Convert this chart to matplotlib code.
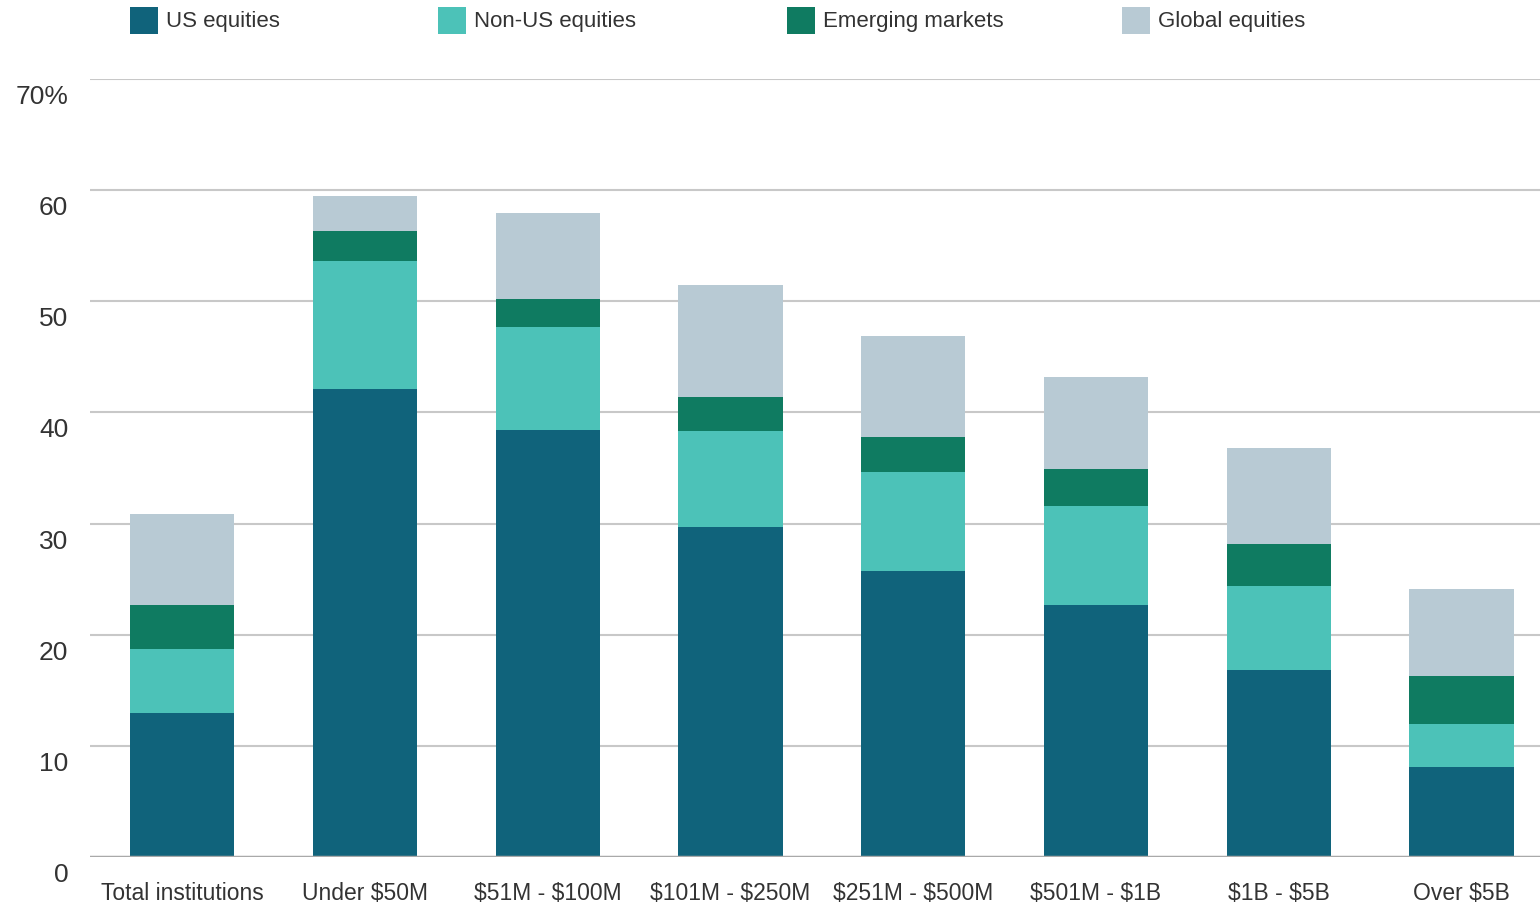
import matplotlib.pyplot as plt
from matplotlib.patches import Rectangle
from matplotlib.transforms import ScaledTranslation
import numpy as np

# Data (% of institutions)
categories = [
    "Total institutions",
    "Under $50M",
    "$51M - $100M",
    "$101M - $250M",
    "$251M - $500M",
    "$501M - $1B",
    "$1B - $5B",
    "Over $5B",
]
us_equities = [13.0, 42.1, 38.4, 29.7, 25.7, 22.7, 16.8, 8.1]
non_us_equities = [5.7, 11.5, 9.3, 8.6, 8.9, 8.9, 7.6, 3.9]
emerging_markets = [4.0, 2.7, 2.5, 3.1, 3.2, 3.3, 3.8, 4.3]
global_equities = [8.2, 3.2, 7.7, 10.1, 9.1, 8.3, 8.6, 7.8]

series_names = ["US equities", "Non-US equities", "Emerging markets", "Global equities"]
series_colors = ["#10637b", "#4cc2b8", "#0f7b61", "#b8cad4"]
y_ticks = [0, 10, 20, 30, 40, 50, 60, 70]
y_tick_labels = ["0", "10", "20", "30", "40", "50", "60", "70%"]

plt.rcParams["font.family"] = ["Liberation Sans Narrow", "Liberation Sans", "DejaVu Sans"]
plt.rcParams["text.parse_math"] = False  # dollar signs are literal

fig = plt.figure(figsize=(15.4, 9.03), dpi=100)
ax = fig.add_axes([90 / 1540, 45 / 903, 1 - 90 / 1540, 778 / 903])

x = np.arange(len(categories))
bottom = np.zeros(len(categories))
for values, color in zip(
    [us_equities, non_us_equities, emerging_markets, global_equities], series_colors
):
    ax.bar(x, values, width=0.57, bottom=bottom, color=color, linewidth=0, zorder=3)
    bottom += np.array(values)

ax.set_xlim(-0.505, 7.43)
ax.set_ylim(0, 70)

# Gridlines and baseline
for t in y_ticks[1:]:
    ax.axhline(t, color="#c8c8c8", linewidth=1.5, zorder=1)
ax.axhline(0, color="#a9a9a9", linewidth=2.5, zorder=4)

for side in ["top", "right", "left", "bottom"]:
    ax.spines[side].set_visible(False)
ax.set_xticks([])
ax.set_yticks([])

# Y labels sit a bit below their gridlines
shift_down = ScaledTranslation(0, -0.17, fig.dpi_scale_trans)
ytrans = ax.get_yaxis_transform() + shift_down
for t, lab in zip(y_ticks, y_tick_labels):
    ax.text(-0.015, t, lab, transform=ytrans, ha="right", va="center",
            fontsize=19, color="#333333")

# Category labels (partly cut by the figure edge, as in the source)
xtrans = ax.get_xaxis_transform() + ScaledTranslation(0, -0.24, fig.dpi_scale_trans)
for xi, cat in zip(x, categories):
    ax.text(xi, 0, cat, transform=xtrans, ha="center", va="top",
            fontsize=16.5, color="#333333")

# Legend across the top
legend_x = [130, 438, 787, 1122]
for lx, name, color in zip(legend_x, series_names, series_colors):
    fig.patches.append(Rectangle((lx / 1540, 1 - 35 / 903), 28 / 1540, 27 / 903,
                                 transform=fig.transFigure, color=color, linewidth=0))
    fig.text((lx + 36) / 1540, 1 - 22 / 903, name, ha="left", va="center",
             fontsize=16, color="#333333")

fig.savefig("out.png", dpi=100)
